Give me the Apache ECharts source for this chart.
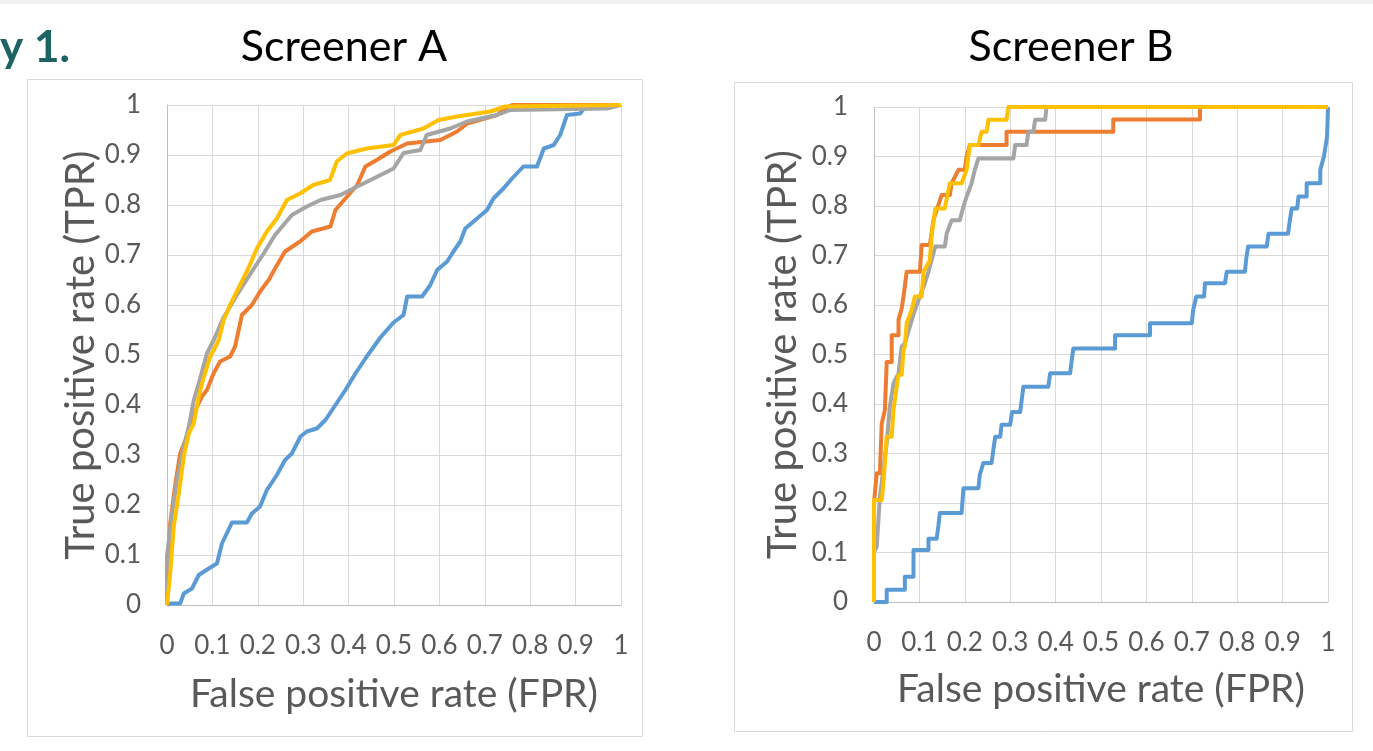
<!DOCTYPE html>
<html>
<head>
<meta charset="utf-8">
<script src="https://cdn.jsdelivr.net/npm/echarts@6/dist/echarts.min.js"></script>
<style>
html,body{margin:0;padding:0;background:#fff;}
#c{width:1373px;height:751px;}
</style>
</head>
<body>
<div id="c"></div>
<script>
// ---- data ----
const tickLabels = ['0','0.1','0.2','0.3','0.4','0.5','0.6','0.7','0.8','0.9','1'];
const titles = ['Screener A', 'Screener B'];
const xName = 'False positive rate (FPR)';
const yName = 'True positive rate (TPR)';
const seriesColors = ['#5b9bd5', '#ed7d31', '#a5a5a5', '#ffc000'];

const aBlue = [[0,0],[0.007,0.003],[0.029,0.003],[0.037,0.023],[0.055,0.033],[0.07,0.06],[0.092,0.073],[0.11,0.083],[0.121,0.123],[0.139,0.157],[0.143,0.165],[0.176,0.165],[0.187,0.183],[0.205,0.197],[0.22,0.23],[0.242,0.26],[0.26,0.29],[0.275,0.303],[0.294,0.337],[0.308,0.347],[0.33,0.353],[0.349,0.37],[0.371,0.4],[0.393,0.43],[0.415,0.463],[0.44,0.497],[0.47,0.535],[0.499,0.565],[0.521,0.58],[0.529,0.617],[0.562,0.617],[0.58,0.64],[0.595,0.67],[0.617,0.687],[0.631,0.707],[0.646,0.727],[0.657,0.753],[0.683,0.773],[0.705,0.79],[0.719,0.813],[0.741,0.833],[0.76,0.853],[0.785,0.877],[0.815,0.877],[0.83,0.913],[0.852,0.92],[0.866,0.94],[0.881,0.98],[0.91,0.983],[0.918,0.993],[0.925,1],[1,1]];
const aOrange = [[0,0],[0.002,0.08],[0.007,0.163],[0.018,0.24],[0.029,0.303],[0.044,0.337],[0.055,0.363],[0.066,0.397],[0.077,0.417],[0.088,0.43],[0.103,0.464],[0.117,0.487],[0.139,0.497],[0.15,0.517],[0.165,0.58],[0.187,0.6],[0.205,0.627],[0.224,0.65],[0.238,0.673],[0.26,0.707],[0.293,0.727],[0.319,0.747],[0.36,0.757],[0.371,0.79],[0.393,0.813],[0.419,0.84],[0.437,0.877],[0.462,0.89],[0.492,0.907],[0.529,0.923],[0.602,0.93],[0.639,0.947],[0.661,0.963],[0.727,0.98],[0.745,0.993],[0.76,1],[1,1]];
const aGray = [[0,0],[0,0.097],[0.011,0.183],[0.022,0.25],[0.037,0.317],[0.048,0.357],[0.059,0.41],[0.07,0.443],[0.088,0.503],[0.103,0.53],[0.124,0.574],[0.154,0.62],[0.187,0.667],[0.213,0.703],[0.238,0.74],[0.275,0.78],[0.308,0.797],[0.338,0.81],[0.382,0.82],[0.426,0.84],[0.455,0.853],[0.499,0.873],[0.521,0.904],[0.558,0.91],[0.572,0.94],[0.624,0.953],[0.661,0.967],[0.727,0.98],[0.756,0.99],[0.969,0.993],[1,1]];
const aYellow = [[0,0],[0.007,0.063],[0.015,0.157],[0.026,0.223],[0.037,0.297],[0.048,0.343],[0.059,0.363],[0.07,0.417],[0.077,0.443],[0.095,0.497],[0.103,0.51],[0.114,0.53],[0.125,0.57],[0.139,0.6],[0.161,0.64],[0.179,0.673],[0.198,0.713],[0.22,0.747],[0.242,0.773],[0.264,0.81],[0.293,0.823],[0.322,0.84],[0.359,0.85],[0.374,0.887],[0.396,0.903],[0.44,0.913],[0.499,0.92],[0.514,0.94],[0.565,0.953],[0.598,0.97],[0.639,0.977],[0.712,0.987],[0.745,0.997],[1,1]];

const bBlue = [[0,0],[0.028,0],[0.028,0.025],[0.068,0.025],[0.068,0.051],[0.087,0.051],[0.087,0.105],[0.12,0.105],[0.12,0.128],[0.138,0.128],[0.142,0.155],[0.145,0.18],[0.193,0.18],[0.197,0.23],[0.23,0.23],[0.233,0.257],[0.241,0.281],[0.259,0.281],[0.263,0.308],[0.267,0.334],[0.278,0.334],[0.281,0.358],[0.3,0.358],[0.304,0.384],[0.322,0.384],[0.329,0.435],[0.384,0.435],[0.388,0.462],[0.432,0.462],[0.435,0.485],[0.439,0.512],[0.531,0.512],[0.531,0.539],[0.608,0.539],[0.608,0.563],[0.7,0.563],[0.703,0.59],[0.71,0.617],[0.727,0.617],[0.729,0.644],[0.773,0.644],[0.777,0.667],[0.817,0.667],[0.82,0.694],[0.824,0.718],[0.865,0.718],[0.869,0.744],[0.912,0.744],[0.916,0.771],[0.92,0.795],[0.932,0.795],[0.935,0.819],[0.953,0.819],[0.953,0.846],[0.983,0.846],[0.983,0.873],[0.991,0.9],[0.998,0.94],[1,1]];
const bOrange = [[0,0],[0,0.2],[0.006,0.26],[0.013,0.26],[0.017,0.36],[0.024,0.388],[0.028,0.485],[0.039,0.485],[0.039,0.539],[0.054,0.539],[0.054,0.57],[0.061,0.593],[0.065,0.617],[0.072,0.667],[0.101,0.667],[0.105,0.721],[0.123,0.721],[0.131,0.772],[0.149,0.822],[0.167,0.822],[0.171,0.846],[0.186,0.873],[0.2,0.873],[0.204,0.9],[0.211,0.923],[0.292,0.923],[0.292,0.95],[0.527,0.95],[0.527,0.975],[0.718,0.975],[0.718,1],[1,1]];
const bGray = [[0,0],[0,0.1],[0.006,0.112],[0.013,0.213],[0.028,0.32],[0.035,0.395],[0.043,0.442],[0.054,0.462],[0.061,0.516],[0.068,0.523],[0.09,0.59],[0.101,0.617],[0.112,0.644],[0.12,0.667],[0.135,0.718],[0.156,0.718],[0.16,0.744],[0.171,0.771],[0.189,0.771],[0.197,0.799],[0.204,0.819],[0.215,0.846],[0.222,0.873],[0.23,0.896],[0.307,0.896],[0.311,0.923],[0.336,0.923],[0.34,0.95],[0.351,0.95],[0.355,0.974],[0.377,0.974],[0.38,1],[1,1]];
const bYellow = [[0,0],[0,0.206],[0.017,0.206],[0.02,0.233],[0.024,0.28],[0.028,0.334],[0.039,0.334],[0.043,0.388],[0.05,0.435],[0.054,0.459],[0.061,0.459],[0.065,0.509],[0.068,0.516],[0.072,0.563],[0.083,0.59],[0.09,0.617],[0.105,0.617],[0.109,0.667],[0.123,0.69],[0.127,0.741],[0.135,0.795],[0.156,0.795],[0.167,0.846],[0.193,0.846],[0.204,0.873],[0.211,0.923],[0.23,0.923],[0.237,0.95],[0.248,0.95],[0.252,0.974],[0.292,0.974],[0.296,1],[1,1]];

// ---- chart ----
const FONT = 'Lato';
const grids = [
  {left:167, top:105, width:454, height:500},
  {left:874, top:107, width:454, height:495}
];
function xAxis(i, gap){
  return {type:'value', gridIndex:i, min:0, max:1, interval:0.1,
    name:xName, nameLocation:'middle', nameGap:gap,
    nameTextStyle:{fontFamily:FONT, fontSize:39, color:'#595959'},
    axisLine:{show:true, lineStyle:{color:'#bfbfbf', width:1}},
    axisTick:{show:false},
    axisLabel:{margin:28, fontFamily:FONT, fontSize:26, color:'#595959',
      formatter:v=>tickLabels[Math.round(v*10)]},
    splitLine:{show:true, lineStyle:{color:'#d9d9d9', width:1}}};
}
function yAxis(i, gap){
  return {type:'value', gridIndex:i, min:0, max:1, interval:0.1,
    name:yName, nameLocation:'middle', nameGap:gap, nameRotate:90,
    nameTextStyle:{fontFamily:FONT, fontSize:40, color:'#595959'},
    axisLine:{show:true, lineStyle:{color:'#bfbfbf', width:1}},
    axisTick:{show:false},
    axisLabel:{margin:26, fontFamily:FONT, fontSize:26, color:'#595959',
      formatter:v=>tickLabels[Math.round(v*10)]},
    splitLine:{show:true, lineStyle:{color:'#d9d9d9', width:1}}};
}
function line(data, ci, gi){
  return {type:'line', data:data, xAxisIndex:gi, yAxisIndex:gi, showSymbol:false,
    symbol:'none', animation:false,
    lineStyle:{color:seriesColors[ci], width:4, join:'round'}, z:2+ci};
}
const chart = echarts.init(document.getElementById('c'), null, {renderer:'canvas'});
chart.setOption({
  animation:false,
  backgroundColor:'#ffffff',
  graphic:[
    {type:'rect', left:0, top:0, shape:{width:1373, height:4}, style:{fill:'#f1f1f1'}, z:-10},
    {type:'rect', shape:{x:27.5, y:79.5, width:615, height:657}, style:{fill:'none', stroke:'#d9d9d9', lineWidth:1}, z:-5},
    {type:'rect', shape:{x:734.5, y:82.5, width:618, height:649}, style:{fill:'none', stroke:'#d9d9d9', lineWidth:1}, z:-5},
    {type:'text', x:0, y:48, style:{text:'y 1.', fontFamily:FONT, fontWeight:'bold', fontSize:44, fill:'#1d6364', verticalAlign:'middle'}}
  ],
  title:[
    {text:titles[0], left:339, top:21, textAlign:'center', textStyle:{fontFamily:FONT, fontWeight:'normal', fontSize:43, color:'#000'}},
    {text:titles[1], left:1066, top:21, textAlign:'center', textStyle:{fontFamily:FONT, fontWeight:'normal', fontSize:43, color:'#000'}}
  ],
  grid:grids,
  xAxis:[xAxis(0,70), xAxis(1,68)],
  yAxis:[yAxis(0,66), yAxis(1,71)],
  series:[
    line(aBlue,0,0), line(aOrange,1,0), line(aGray,2,0), line(aYellow,3,0),
    line(bBlue,0,1), line(bOrange,1,1), line(bGray,2,1), line(bYellow,3,1)
  ]
});
</script>
</body>
</html>
